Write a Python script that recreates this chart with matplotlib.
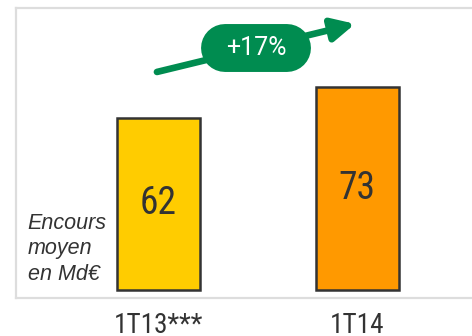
import matplotlib.pyplot as plt
import numpy as np

# --- Data ---
categories = ['1T13***', '1T14']
values = [62, 73]
bar_colors = ['#FFCC00', '#FF9900']
growth_label = '+17%'
unit_label = 'Encours\nmoyen\nen Md€'

green = '#008C50'
text_dark = '#333333'
border = '#DDDDDD'
cond = ['Roboto Condensed', 'DejaVu Sans']

fig = plt.figure(figsize=(4.72, 3.36), dpi=100)
ax = fig.add_axes([16 / 472, 38 / 336, 456 / 472, 290 / 336])

x = np.arange(len(categories))
ax.bar(x, values, width=0.418, color=bar_colors, edgecolor='#333333', linewidth=1.8, zorder=2)

ax.set_xlim(-0.718, 1.579)
ax.set_ylim(-2.88, 101.4)

# values inside the bars
for xi, v in zip(x, values):
    ax.text(xi, v / 2, str(v), ha='center', va='center', fontsize=27,
            family=cond, color=text_dark, zorder=3)

# category labels under the box
ax.set_xticks(x)
ax.set_xticklabels(categories, fontsize=19.5, family=cond, color=text_dark)
ax.tick_params(axis='x', length=0, pad=10)
ax.set_yticks([])

# box border: top, left, bottom only
for side in ['top', 'left', 'bottom']:
    ax.spines[side].set_color(border)
    ax.spines[side].set_linewidth(1.6)
ax.spines['right'].set_visible(False)

# unit label
ax.text(-0.66, 14.8, unit_label, ha='left', va='center', fontsize=15.5, style='italic',
        family=['Liberation Sans', 'DejaVu Sans'], color=text_dark, linespacing=1.3)

# growth arrow with pill label
ax.annotate('', xy=(0.99, 95.7), xytext=(-0.008, 78.4),
            arrowprops=dict(arrowstyle='-|>', lw=4.8, color=green, mutation_scale=34,
                            shrinkA=0, shrinkB=0), zorder=4)
ax.plot([0.491 - 0.154, 0.491 + 0.154], [87.05, 87.05], color=green, linewidth=34.5,
        solid_capstyle='round', zorder=5)
ax.text(0.491, 87.05, growth_label, ha='center', va='center', fontsize=18, color='white',
        family=['Roboto', 'DejaVu Sans'], zorder=6)

fig.savefig('out.png', dpi=100, facecolor='white')
